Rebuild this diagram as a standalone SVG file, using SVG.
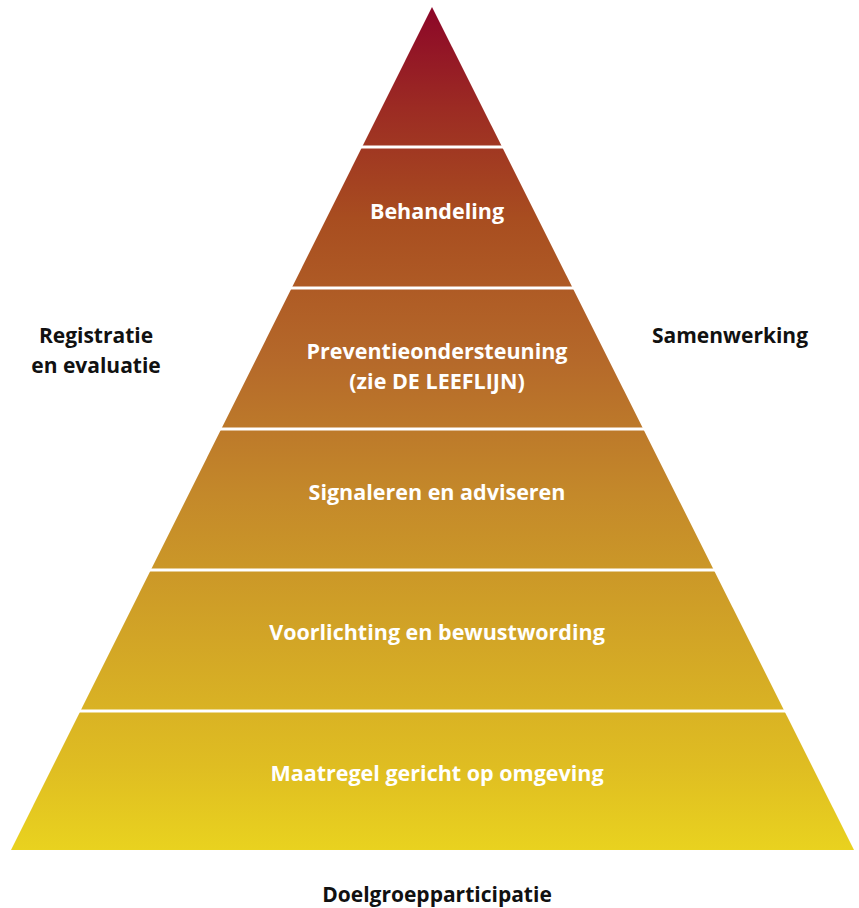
<svg xmlns="http://www.w3.org/2000/svg" width="859" height="908" viewBox="0 0 859 908">
<style>
.in{font-family:"Open Sans","DejaVu Sans",sans-serif;font-weight:bold;font-size:21.5px;fill:#ffffff;text-anchor:middle}
.out{font-family:"Open Sans","DejaVu Sans",sans-serif;font-weight:bold;font-size:21px;fill:#111111;text-anchor:middle}
.sep{stroke:#ffffff;stroke-width:3}
</style>
<defs>
<linearGradient id="g" gradientUnits="userSpaceOnUse" x1="0" y1="7" x2="0" y2="850">
<stop offset="0" stop-color="#8C0628"/>
<stop offset="0.12" stop-color="#9C2B23"/>
<stop offset="0.25" stop-color="#A84D20"/>
<stop offset="0.42" stop-color="#B5692A"/>
<stop offset="0.58" stop-color="#C4892A"/>
<stop offset="0.75" stop-color="#D2A526"/>
<stop offset="0.9" stop-color="#DFBD22"/>
<stop offset="1" stop-color="#E9D21F"/>
</linearGradient>
</defs>
<rect width="859" height="908" fill="#ffffff"/>
<g id="pyramid">
<polygon points="432,7 854,850 11,850" fill="url(#g)"/>
</g>
<g id="connectors">
<line class="sep" x1="350" y1="147" x2="515" y2="147"/>
<line class="sep" x1="280" y1="288" x2="585" y2="288"/>
<line class="sep" x1="210" y1="429" x2="655" y2="429"/>
<line class="sep" x1="140" y1="570" x2="725" y2="570"/>
<line class="sep" x1="70" y1="711" x2="795" y2="711"/>
</g>
<g id="n-behandeling"><text class="in" x="437" y="219">Behandeling</text></g>
<g id="n-preventie"><text class="in" x="437" y="359">Preventieondersteuning</text><text class="in" x="437" y="389">(zie DE LEEFLIJN)</text></g>
<g id="n-signaleren"><text class="in" x="437" y="500">Signaleren en adviseren</text></g>
<g id="n-voorlichting"><text class="in" x="437" y="640">Voorlichting en bewustwording</text></g>
<g id="n-maatregel"><text class="in" x="437" y="781">Maatregel gericht op omgeving</text></g>
<g id="n-registratie"><text class="out" x="96" y="343">Registratie</text><text class="out" x="96" y="373">en evaluatie</text></g>
<g id="n-samenwerking"><text class="out" x="730" y="343">Samenwerking</text></g>
<g id="n-doelgroep"><text class="out" x="437" y="902">Doelgroepparticipatie</text></g>
</svg>
